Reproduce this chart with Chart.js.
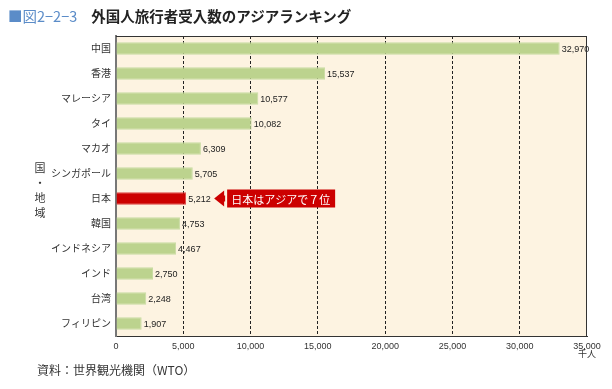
<!DOCTYPE html>
<html>
<head>
<meta charset="utf-8">
<script src="https://cdn.jsdelivr.net/npm/chart.js@4"></script>
<style>
  html, body { margin: 0; padding: 0; background: #fff; }
  body { width: 612px; height: 389px; position: relative; overflow: hidden;
         font-family: 'Noto Sans CJK JP', sans-serif; }
  #wrap { position: absolute; left: 0; top: 0; width: 612px; height: 389px; }
  .title { position: absolute; left: 8px; top: 5px; font-size: 14.5px; font-weight: 700; color: #222; white-space: nowrap; }
  .title .no { color: #5b8cc8; font-weight: 400; margin-right: 14px; }
  .ytitle { position: absolute; left: 33px; top: 160px; width: 14px; font-size: 11px; line-height: 15px; color: #333; text-align: center; }
  .unit { position: absolute; left: 578px; top: 347px; font-size: 9px; color: #333; }
  .source { position: absolute; left: 37px; top: 361px; font-size: 12px; color: #333; }
</style>
</head>
<body>
<div id="wrap"><canvas id="chart" width="612" height="389"></canvas></div>
<div class="title"><span class="no">■図2−2−3</span>外国人旅行者受入数のアジアランキング</div>
<div class="ytitle">国<br>・<br>地<br>域</div>
<div class="unit">千人</div>
<div class="source">資料：世界観光機関（WTO）</div>
<script>
// 外国人旅行者受入数（千人）
const countries = ['中国', '香港', 'マレーシア', 'タイ', 'マカオ', 'シンガポール', '日本', '韓国', 'インドネシア', 'インド', '台湾', 'フィリピン'];
const arrivals  = [32970, 15537, 10577, 10082, 6309, 5705, 5212, 4753, 4467, 2750, 2248, 1907];
const xTicks    = [0, 5000, 10000, 15000, 20000, 25000, 30000, 35000];
const highlight = '日本';
const noteText  = '日本はアジアで７位';

const GREEN = '#bcd38e';
const RED   = '#cc0000';
const fmt = v => v.toLocaleString('en-US');

// cream plot background + top/right frame
const plotBg = {
  id: 'plotBg',
  beforeDraw(chart) {
    const { ctx, chartArea: a } = chart;
    ctx.save();
    ctx.fillStyle = '#fdf3e1';
    ctx.fillRect(a.left, a.top, a.right - a.left, a.bottom - a.top);
    ctx.restore();
  },
  afterDraw(chart) {
    const { ctx, chartArea: a } = chart;
    ctx.save();
    ctx.strokeStyle = '#333';
    ctx.lineWidth = 1;
    ctx.beginPath();
    ctx.moveTo(a.left, a.top + 0.5); ctx.lineTo(a.right, a.top + 0.5);
    ctx.moveTo(a.right - 0.5, a.top); ctx.lineTo(a.right - 0.5, a.bottom);
    ctx.stroke();
    ctx.restore();
  }
};

// value labels + callout for Japan
const valueLabels = {
  id: 'valueLabels',
  afterDatasetsDraw(chart) {
    const { ctx } = chart;
    const meta = chart.getDatasetMeta(0);
    ctx.save();
    ctx.font = '9px Arial, "Liberation Sans", sans-serif';
    ctx.fillStyle = '#222';
    ctx.textBaseline = 'middle';
    meta.data.forEach((bar, i) => {
      ctx.fillText(fmt(arrivals[i]), bar.x + 2, bar.y + 1);
    });

    // callout arrow
    const j = countries.indexOf(highlight);
    const bar = meta.data[j];
    const tip = bar.x + 28, y = bar.y;
    const bx = tip + 9, bw = 108, bh = 18;
    ctx.fillStyle = RED;
    ctx.beginPath();
    ctx.moveTo(tip, y);
    ctx.lineTo(bx + 1, y - 8);
    ctx.lineTo(bx + 1, y - 3);
    ctx.lineTo(bx + 2, y - 3);
    ctx.lineTo(bx + 2, y + 3);
    ctx.lineTo(bx + 1, y + 3);
    ctx.lineTo(bx + 1, y + 8);
    ctx.closePath();
    ctx.fill();
    ctx.fillRect(bx + 4, y - bh / 2, bw, bh);
    ctx.fillStyle = '#fff';
    ctx.font = '11px "Noto Sans CJK JP", sans-serif';
    ctx.textAlign = 'left';
    ctx.fillText(noteText, bx + 8, y + 1);
    ctx.restore();
  }
};

new Chart(document.getElementById('chart'), {
  type: 'bar',
  data: {
    labels: countries,
    datasets: [{
      data: arrivals,
      backgroundColor: countries.map(c => c === highlight ? RED : GREEN),
      borderColor: countries.map(c => c === highlight ? '#dd4444' : '#c9dca3'),
      borderWidth: 1,
      barPercentage: 0.5,
      categoryPercentage: 1.0
    }]
  },
  options: {
    indexAxis: 'y',
    responsive: false,
    animation: false,
    layout: { padding: { left: 0, right: 25, top: 36, bottom: 0 } },
    plugins: { legend: { display: false }, tooltip: { enabled: false } },
    scales: {
      x: {
        min: 0, max: 35000,
        afterBuildTicks: s => { s.ticks = xTicks.map(v => ({ value: v })); },
        afterFit: s => { s.height = 53; },
        grid: {
          drawTicks: false,
          color: c => (c.tick && c.tick.value > 0 && c.tick.value < 35000) ? '#222' : 'rgba(0,0,0,0)',
          lineWidth: 1
        },
        border: { display: true, color: '#333', width: 1, dash: [3, 2] },
        ticks: {
          color: '#333',
          font: { family: 'Arial, "Liberation Sans", sans-serif', size: 9 },
          padding: 5,
          maxRotation: 0,
          callback: v => fmt(v)
        }
      },
      y: {
        afterFit: s => { s.width = 116; },
        grid: { display: false, drawTicks: false },
        border: { display: true, color: '#777', width: 2 },
        ticks: {
          color: '#333',
          font: { family: '"Noto Sans CJK JP", sans-serif', size: 10 },
          padding: 5
        }
      }
    }
  },
  plugins: [plotBg, valueLabels]
});
</script>
</body>
</html>
